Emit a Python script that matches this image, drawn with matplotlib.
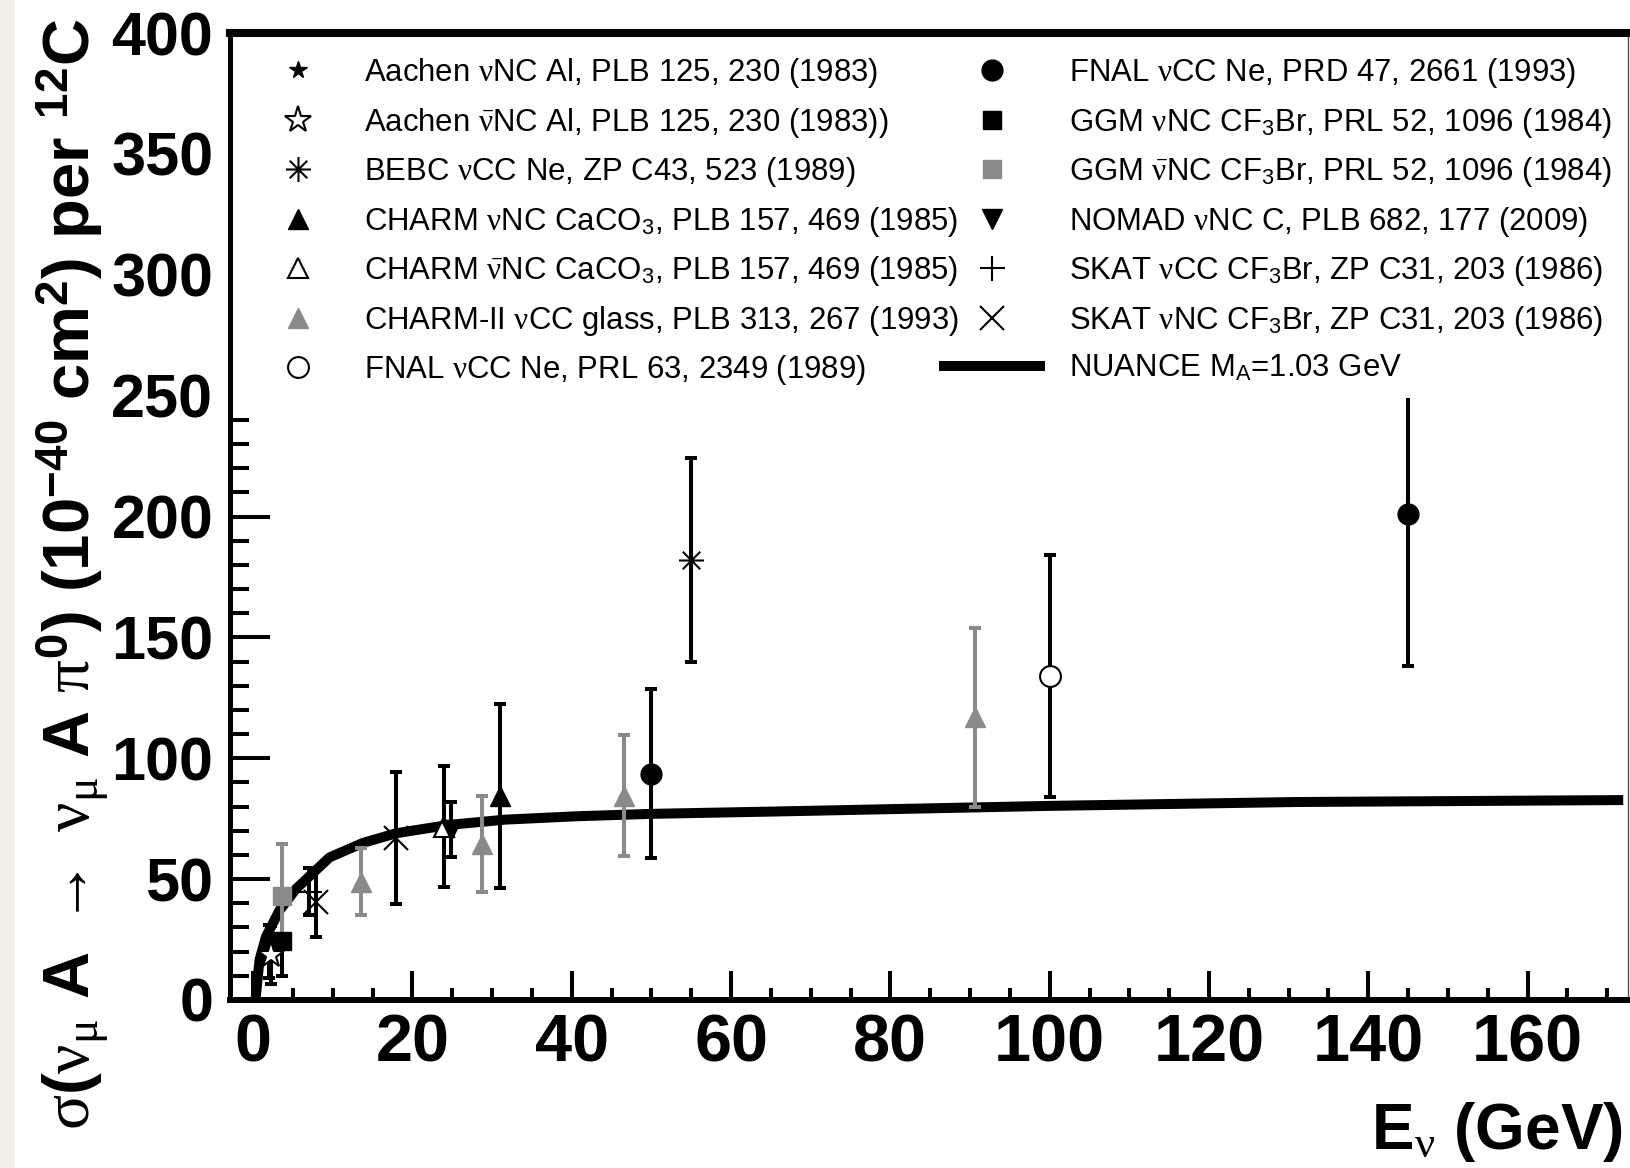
import matplotlib.pyplot as plt
from matplotlib import font_manager
from matplotlib.lines import Line2D
from matplotlib.patches import Rectangle
from matplotlib.path import Path

font_names = {f.name for f in font_manager.fontManager.ttflist}
narrow = 'Liberation Sans Narrow' in font_names
title_family = 'Liberation Sans Narrow' if narrow else 'Liberation Sans'

plt.rcParams['font.family'] = ['Liberation Sans', 'DejaVu Sans']
plt.rcParams['mathtext.fontset'] = 'custom'
plt.rcParams['mathtext.rm'] = 'Liberation Serif'
plt.rcParams['mathtext.it'] = 'Liberation Serif:italic'
plt.rcParams['mathtext.bf'] = title_family + ':bold'
plt.rcParams['mathtext.sf'] = 'Liberation Sans'

# NUANCE M_A=1.03 GeV prediction
nuance_E = [0.3, 0.8, 1.6, 3.3, 5.4, 7.5, 9.6, 13.8, 18, 24.5, 31.6, 40.6, 50, 66, 100, 131, 172]
nuance_xs = [0, 16.5, 26, 37, 46, 52.5, 59, 65, 69, 72.4, 74.6, 76, 77, 78, 80.3, 81.9, 82.7]

# data sets (E in GeV, sigma in 1e-40 cm2 per 12C)
aachen_nu_E, aachen_nu_xs, aachen_nu_err = [2.0], [20.0], [11]
aachen_nubar_E, aachen_nubar_xs, aachen_nubar_err = [2.2], [18.5], [12]
bebc_E, bebc_xs, bebc_err = [55], [182], [42]
charm_nu_E, charm_nu_xs, charm_nu_err = [31], [84.4], [38]
charm_nubar_E, charm_nubar_xs, charm_nubar_err = [24], [71.6], [25]
charm2_E = [13.6, 28.7, 46.5, 90.6]
charm2_xs = [49, 64.5, 84.5, 117]
charm2_err = [14, 20, 25, 37]
fnal89_E, fnal89_xs, fnal89_err = [100], [134], [50]
fnal93_E, fnal93_xs, fnal93_err = [50, 145], [93.6, 201], [35, 63]
ggm_nu_E, ggm_nu_xs, ggm_nu_err = [3.6], [24.5], [14.5]
ggm_nubar_E, ggm_nubar_xs, ggm_nubar_err = [3.6], [43], [21.5]
nomad_E, nomad_xs, nomad_err = [24.9], [70.5], [11.5]
skat_cc_E, skat_cc_xs, skat_cc_err = [7.0], [44.8], [9.8]
skat_nc_E, skat_nc_xs, skat_nc_err = [7.9, 17.9], [40.4, 67.2], [14.3, 27.3]

nu = r'$\mathrm{\nu}$'
nubar = r'$\bar{\mathrm{\nu}}$'
sub3 = r'$_{\mathregular{3}}$'
labels_left = [
    'Aachen ' + nu + 'NC Al, PLB 125, 230 (1983)',
    'Aachen ' + nubar + 'NC Al, PLB 125, 230 (1983))',
    'BEBC ' + nu + 'CC Ne, ZP C43, 523 (1989)',
    'CHARM ' + nu + 'NC CaCO' + sub3 + ', PLB 157, 469 (1985)',
    'CHARM ' + nubar + 'NC CaCO' + sub3 + ', PLB 157, 469 (1985)',
    'CHARM-II ' + nu + 'CC glass, PLB 313, 267 (1993)',
    'FNAL ' + nu + 'CC Ne, PRL 63, 2349 (1989)',
]
labels_right = [
    'FNAL ' + nu + 'CC Ne, PRD 47, 2661 (1993)',
    'GGM ' + nu + 'NC CF' + sub3 + 'Br, PRL 52, 1096 (1984)',
    'GGM ' + nubar + 'NC CF' + sub3 + 'Br, PRL 52, 1096 (1984)',
    'NOMAD ' + nu + 'NC C, PLB 682, 177 (2009)',
    'SKAT ' + nu + 'CC CF' + sub3 + 'Br, ZP C31, 203 (1986)',
    'SKAT ' + nu + 'NC CF' + sub3 + 'Br, ZP C31, 203 (1986)',
    r'NUANCE M$_{\mathregular{A}}$=1.03 GeV',
]

GRAY = '#8a8a8a'
asterisk = Path([(0, -1), (0, 1), (-1, 0), (1, 0), (-0.7, -0.7), (0.7, 0.7), (-0.7, 0.7), (0.7, -0.7)],
                [Path.MOVETO, Path.LINETO] * 4)

# marker styles, one per data set
styles = {
    'aachen_nu': dict(marker='*', ms=13, mfc='black', mec='black', mew=1),
    'aachen_nubar': dict(marker='*', ms=20, mfc='white', mec='black', mew=1.5),
    'bebc': dict(marker=asterisk, ms=18, mfc='none', mec='black', mew=1.5),
    'charm_nu': dict(marker='^', ms=15, mfc='black', mec='black', mew=1),
    'charm_nubar': dict(marker='^', ms=15, mfc='white', mec='black', mew=1.5),
    'charm2': dict(marker='^', ms=15, mfc=GRAY, mec=GRAY, mew=1),
    'fnal89': dict(marker='o', ms=15, mfc='white', mec='black', mew=1.5),
    'fnal93': dict(marker='o', ms=15, mfc='black', mec='black', mew=1),
    'ggm_nu': dict(marker='s', ms=13, mfc='black', mec='black', mew=1),
    'ggm_nubar': dict(marker='s', ms=13, mfc=GRAY, mec=GRAY, mew=1),
    'nomad': dict(marker='v', ms=15, mfc='black', mec='black', mew=1),
    'skat_cc': dict(marker='+', ms=18, mfc='none', mec='black', mew=1.5),
    'skat_nc': dict(marker='x', ms=17, mfc='none', mec='black', mew=1.5),
}

fig = plt.figure(figsize=(16.3, 11.68), dpi=100)
fig.patches.append(Rectangle((0, 0), 15 / 1630, 1, transform=fig.transFigure,
                             fc='#f2efe9', ec='none', zorder=0))
ax = fig.add_axes([230 / 1630, 168 / 1168, 1398 / 1630, 967 / 1168])

ax.plot(nuance_E, nuance_xs, color='black', lw=7.2, solid_capstyle='butt', zorder=2)

def draw(E, xs, err, key, color='black'):
    ax.errorbar(E, xs, yerr=err, fmt='none', ecolor=color, elinewidth=2.9,
                capsize=4, capthick=2.9, zorder=3)
    ax.plot(E, xs, ls='none', zorder=4, **styles[key])

draw(aachen_nu_E, aachen_nu_xs, aachen_nu_err, 'aachen_nu')
draw(aachen_nubar_E, aachen_nubar_xs, aachen_nubar_err, 'aachen_nubar')
draw(bebc_E, bebc_xs, bebc_err, 'bebc')
draw(charm_nu_E, charm_nu_xs, charm_nu_err, 'charm_nu')
draw(charm_nubar_E, charm_nubar_xs, charm_nubar_err, 'charm_nubar')
draw(charm2_E, charm2_xs, charm2_err, 'charm2', GRAY)
draw(fnal89_E, fnal89_xs, fnal89_err, 'fnal89')
draw(fnal93_E, fnal93_xs, fnal93_err, 'fnal93')
draw(ggm_nu_E, ggm_nu_xs, ggm_nu_err, 'ggm_nu')
draw(ggm_nubar_E, ggm_nubar_xs, ggm_nubar_err, 'ggm_nubar', GRAY)
draw(nomad_E, nomad_xs, nomad_err, 'nomad')
draw(skat_cc_E, skat_cc_xs, skat_cc_err, 'skat_cc')
draw(skat_nc_E, skat_nc_xs, skat_nc_err, 'skat_nc')

ax.set_xlim(-2.9, 172.6)
ax.set_ylim(0, 400)
ax.set_xticks(range(0, 161, 20))
ax.set_xticks(range(0, 175, 5), minor=True)
ax.set_yticks(range(0, 401, 50))
ax.set_yticks(range(0, 401, 10), minor=True)
ax.tick_params(axis='x', which='major', direction='in', length=21, width=2.9, pad=10,
               labelsize=48)
ax.tick_params(axis='x', which='minor', direction='in', length=8.5, width=2.9)
ax.tick_params(axis='y', which='major', direction='in', length=29, width=2.9, pad=12,
               labelsize=44)
ax.tick_params(axis='y', which='minor', direction='in', length=14, width=2.9)
for t in ax.get_xticklabels() + ax.get_yticklabels():
    t.set_fontweight('bold')

ax.spines['left'].set_linewidth(3.6)
ax.spines['bottom'].set_linewidth(4.3)
ax.spines['top'].set_linewidth(5.8)
ax.spines['right'].set_linewidth(1)
ax.spines['right'].set_color('#555555')
for s in ax.spines.values():
    s.set_zorder(10)

ax.set_xlabel(r'E$_{\mathrm{\nu}}$ (GeV)', fontsize=46, fontweight='bold', loc='right')
ax.xaxis.set_label_coords(0.996, -0.103)
ax.set_ylabel(r'$\mathrm{\sigma}$($\mathrm{\nu_{\mu}}$ A $\mathrm{\rightarrow}$ $\mathrm{\nu_{\mu}}$ A '
              r'$\mathrm{\pi}^{\mathbf{0}}$) (10$^{\mathbf{-40}}$ cm$^{\mathbf{2}}$) per $^{\mathbf{12}}$C',
              fontsize=57 if narrow else 47, fontweight='bold', family=title_family)
ax.yaxis.set_label_coords(-0.085, 0.44)

# white legend area covering the top of the frame
ax.add_patch(Rectangle((0, 249 / 400), 1, 1 - 249 / 400, transform=ax.transAxes,
                       fc='white', ec='none', zorder=5))

handles_left = [Line2D([], [], ls='none', **styles[k]) for k in
                ['aachen_nu', 'aachen_nubar', 'bebc', 'charm_nu', 'charm_nubar', 'charm2', 'fnal89']]
handles_right = [Line2D([], [], ls='none', **styles[k]) for k in
                 ['fnal93', 'ggm_nu', 'ggm_nubar', 'nomad', 'skat_cc', 'skat_nc']]
handles_right.append(Line2D([], [], color='black', lw=7.2, solid_capstyle='butt'))

fs = 22.4
fpx = fs * 100 / 72
leg1 = ax.legend(handles_left, labels_left, loc='upper left', frameon=False, fontsize=fs,
                 borderpad=0, borderaxespad=0, handlelength=44 / fpx, handletextpad=44 / fpx,
                 labelspacing=0.5,
                 bbox_to_anchor=((276 - 230) / 1398, (1000 - 56) / 967))
leg1.set_zorder(6)
ax.add_artist(leg1)
leg2 = ax.legend(handles_right, labels_right, loc='upper left', frameon=False, fontsize=fs,
                 borderpad=0, borderaxespad=0, handlelength=106 / fpx, handletextpad=24 / fpx,
                 labelspacing=0.5,
                 bbox_to_anchor=((939 - 230) / 1398, (1000 - 56) / 967))
leg2.set_zorder(6)

fig.savefig('out.png', dpi=100)
